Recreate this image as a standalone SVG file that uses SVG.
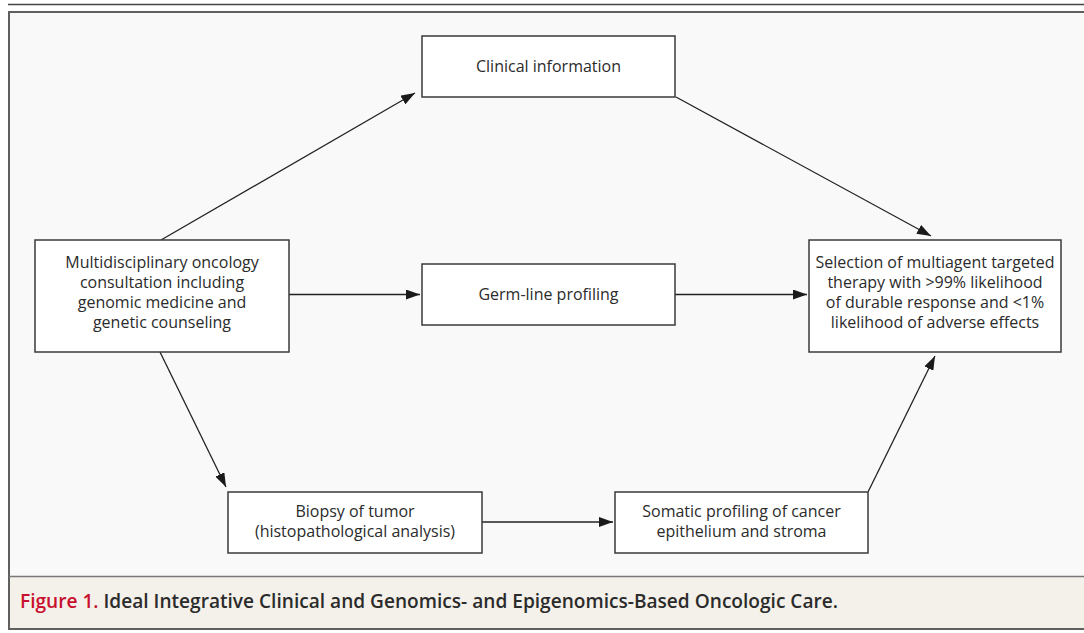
<svg xmlns="http://www.w3.org/2000/svg" width="1084" height="633" viewBox="0 0 1084 633">
<defs>
<style>
.frame{fill:#f9f9f9;stroke:#5f5f5f;stroke-width:2}
.box{fill:#ffffff;stroke:#3a3a3a;stroke-width:1.5}
.lbl{font-family:"Open Sans","Noto Sans",sans-serif;font-size:16px;fill:#2b2b2b;text-anchor:middle}
.edge{stroke:#222;stroke-width:1.3;fill:none;marker-end:url(#ah)}
.cap{font-family:"Open Sans","Liberation Sans",sans-serif;font-size:19px;font-weight:600;fill:#2b2b2b}
</style>
<marker id="ah" markerUnits="userSpaceOnUse" markerWidth="14" markerHeight="10" viewBox="0 0 14 10" refX="14" refY="5" orient="auto">
<path d="M0,0 L14,5 L0,10 Z" fill="#1a1a1a"/>
</marker>
</defs>
<rect width="1084" height="633" fill="#ffffff"/>
<line x1="8" y1="4.5" x2="1084" y2="4.5" stroke="#444" stroke-width="1.5"/>
<rect class="frame" x="9" y="12" width="1090" height="617"/>
<rect x="10" y="577" width="1080" height="51" fill="#f4f1ea"/>
<line x1="9" y1="576.5" x2="1084" y2="576.5" stroke="#777" stroke-width="1.5"/>
<g id="connectors">
<line class="edge" x1="161" y1="240" x2="415" y2="93"/>
<line class="edge" x1="676" y1="97" x2="931" y2="236"/>
<line class="edge" x1="289" y1="294.5" x2="420" y2="294.5"/>
<line class="edge" x1="675" y1="294.5" x2="807" y2="294.5"/>
<line class="edge" x1="160" y1="352" x2="226" y2="487"/>
<line class="edge" x1="482" y1="522" x2="613" y2="522"/>
<line class="edge" x1="868" y1="492" x2="935" y2="356"/>
</g>
<g id="clinical">
<rect class="box" x="422" y="36" width="253" height="61"/>
<text class="lbl" x="548.5" y="72">Clinical information</text>
</g>
<g id="multi">
<rect class="box" x="35" y="240" width="254" height="112"/>
<text class="lbl" x="162" y="268">Multidisciplinary oncology</text>
<text class="lbl" x="162" y="288">consultation including</text>
<text class="lbl" x="162" y="308">genomic medicine and</text>
<text class="lbl" x="162" y="328">genetic counseling</text>
</g>
<g id="germline">
<rect class="box" x="422" y="264" width="253" height="61"/>
<text class="lbl" x="548.5" y="300">Germ-line profiling</text>
</g>
<g id="selection">
<rect class="box" x="809" y="240" width="252" height="112"/>
<text class="lbl" x="935" y="268">Selection of multiagent targeted</text>
<text class="lbl" x="935" y="288">therapy with &gt;99% likelihood</text>
<text class="lbl" x="935" y="308">of durable response and &lt;1%</text>
<text class="lbl" x="935" y="328">likelihood of adverse effects</text>
</g>
<g id="biopsy">
<rect class="box" x="228" y="492" width="254" height="61"/>
<text class="lbl" x="355" y="517">Biopsy of tumor</text>
<text class="lbl" x="355" y="537">(histopathological analysis)</text>
</g>
<g id="somatic">
<rect class="box" x="615" y="492" width="253" height="61"/>
<text class="lbl" x="741.5" y="517">Somatic profiling of cancer</text>
<text class="lbl" x="741.5" y="537">epithelium and stroma</text>
</g>
<text class="cap" x="20" y="608" textLength="818" lengthAdjust="spacingAndGlyphs"><tspan fill="#c8102e">Figure 1.</tspan> Ideal Integrative Clinical and Genomics- and Epigenomics-Based Oncologic Care.</text>
</svg>
